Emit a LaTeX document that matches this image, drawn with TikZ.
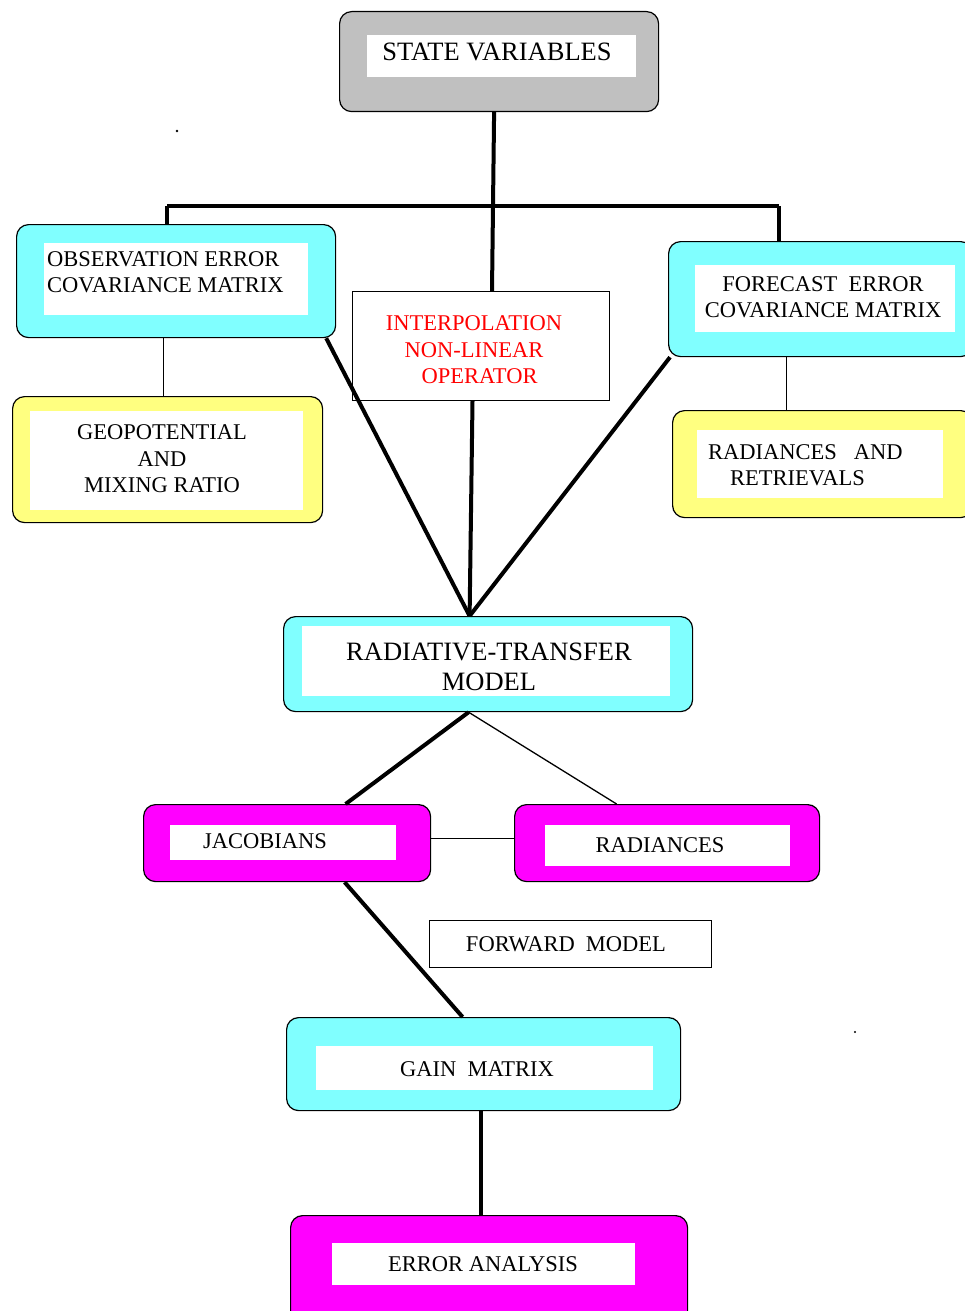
\documentclass[tikz,border=0pt]{standalone}
\usepackage{fontspec}
\setmainfont{Liberation Serif}
\usetikzlibrary{calc}
\definecolor{cyanf}{HTML}{80FFFF}
\definecolor{yellowf}{HTML}{FFFF80}
\definecolor{magf}{HTML}{FF00FF}
\definecolor{grayf}{HTML}{C0C0C0}
\definecolor{redt}{HTML}{FF0000}
\begin{document}
\begin{tikzpicture}[x=1pt,y=-1pt,
  obox/.style={draw=black, line width=1.2pt, rounded corners=12pt, inner sep=0pt, anchor=north west},
  wbox/.style={fill=white, draw=none, inner sep=0pt, anchor=north west},
  pbox/.style={draw=black, line width=1pt, fill=white, inner sep=0pt, anchor=north west},
  txt/.style={inner sep=0pt, align=center, font=\fontsize{22.5}{26.5}\selectfont},
  bigtxt/.style={inner sep=0pt, align=center, font=\fontsize{26.5}{30}\selectfont},
  thk/.style={line width=4pt},
  thn/.style={line width=1.3pt}
]
\useasboundingbox (0,0) rectangle (964,1311);
\fill[white] (0,0) rectangle (964,1311);

% boxes
\node[obox, fill=grayf, minimum width=319pt, minimum height=100pt] (sv) at (339,11) {};
\node[wbox, minimum width=269pt, minimum height=42pt] (svw) at (367,35) {};
\node[bigtxt] (svt) at (497,52) {STATE VARIABLES};

\node[obox, fill=cyanf, minimum width=319pt, minimum height=113pt] (obs) at (16,224) {};
\node[wbox, minimum width=264pt, minimum height=72pt] (obsw) at (44,243) {};
\node[txt, align=left, anchor=west] (obst) at (47,272) {OBSERVATION ERROR\\COVARIANCE MATRIX};

\node[obox, fill=yellowf, minimum width=310pt, minimum height=126pt] (geo) at (12,396) {};
\node[wbox, minimum width=273pt, minimum height=99pt] (geow) at (30,411) {};
\node[txt] (geot) at (162,459) {GEOPOTENTIAL\\AND\\MIXING RATIO};

\node[pbox, minimum width=257pt, minimum height=109pt] (interp) at (352,291) {};
\node[txt, text=redt] (interpt) at (474,350) {INTERPOLATION\\NON-LINEAR\\\ \ OPERATOR};

\node[obox, fill=cyanf, minimum width=304pt, minimum height=115pt] (fc) at (668,241) {};
\node[wbox, minimum width=260pt, minimum height=67pt] (fcw) at (695,265) {};
\node[txt] (fct) at (823,297) {FORECAST\ \ ERROR\\COVARIANCE MATRIX};

\node[obox, fill=yellowf, minimum width=300pt, minimum height=107pt] (rr) at (672,410) {};
\node[wbox, minimum width=246pt, minimum height=68pt] (rrw) at (697,430) {};
\node[txt, align=left, anchor=west] (rrt) at (708,465) {RADIANCES\ \ \ AND\\\hspace{22pt}RETRIEVALS};

\node[obox, fill=cyanf, minimum width=409pt, minimum height=95pt] (rt) at (283,616) {};
\node[wbox, minimum width=368pt, minimum height=70pt] (rtw) at (302,626) {};
\node[bigtxt] (rtt) at (489,667) {RADIATIVE-TRANSFER\\MODEL};

\node[obox, fill=magf, minimum width=287pt, minimum height=77pt] (jac) at (143,804) {};
\node[wbox, minimum width=226pt, minimum height=35pt] (jacw) at (170,825) {};
\node[txt] (jact) at (265,841) {JACOBIANS};

\node[obox, fill=magf, minimum width=305pt, minimum height=77pt] (rad) at (514,804) {};
\node[wbox, minimum width=245pt, minimum height=41pt] (radw) at (545,825) {};
\node[txt] (radt) at (660,845) {RADIANCES};

\node[pbox, minimum width=282pt, minimum height=47pt] (fw) at (429,920) {};
\node[txt] (fwt) at (566,944) {FORWARD\ \ MODEL};

\node[obox, fill=cyanf, minimum width=394pt, minimum height=93pt] (gain) at (286,1017) {};
\node[wbox, minimum width=337pt, minimum height=44pt] (gainw) at (316,1046) {};
\node[txt] (gaint) at (477,1069) {GAIN\ \ MATRIX};

\node[obox, fill=magf, minimum width=397pt, minimum height=110pt] (err) at (290,1215) {};
\node[wbox, minimum width=303pt, minimum height=42pt] (errw) at (332,1243) {};
\node[txt] (errt) at (483,1264) {ERROR ANALYSIS};

% coordinates
\coordinate (barL) at (167,206);
\coordinate (barR) at (779,206);
\coordinate (conv) at ($(rt.north)+(-18.5,0)$);

% connectors
\draw[thk] ($(sv.south)+(-5,0)$) -- ($(interp.north)+(11,0)$);
\draw[thk] (barL) -- (barR);
\draw[thk] (obs.north -| barL) -- (barL);
\draw[thk] (fc.north -| barR) -- (barR);
\draw[thn] ($(obs.south)+(-12.5,0)$) -- ($(geo.north)+(-4,0)$);
\draw[thn] ($(fc.south)+(-34,0)$) -- ($(rr.north)+(-36,0)$);
\draw[thk] ($(obs.south east)+(-10,0)$) -- (conv);
\draw[thk] ($(interp.south)+(-8.5,0)$) -- (conv);
\draw[thk] ($(fc.south west)+(2,0)$) -- (conv);
\draw[thk] ($(rt.south)+(-19.5,0)$) -- ($(jac.north)+(58.5,0)$);
\draw[thn] ($(rt.south)+(-19.5,0)$) -- ($(rad.north)+(-50.5,0)$);
\draw[thn] ($(jac.east)+(0,-4.5)$) -- ($(rad.west)+(0,-4.5)$);
\draw[thk] ($(jac.south)+(57.5,0)$) -- ($(gain.north)+(-21,0)$);
\draw[thk] ($(gain.south)+(-3,0)$) -- ($(err.north)+(-8.5,0)$);

% stray dots
\fill (177,131) circle (1.3);
\fill (855,1032) circle (1.1);
\end{tikzpicture}
\end{document}
